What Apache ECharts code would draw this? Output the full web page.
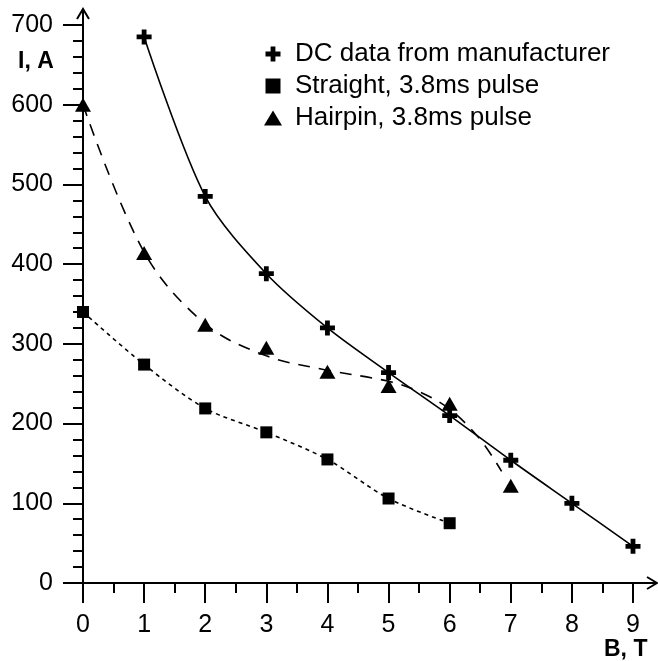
<!DOCTYPE html>
<html>
<head>
<meta charset="utf-8">
<script src="https://cdn.jsdelivr.net/npm/echarts@6/dist/echarts.min.js"></script>
<style>
  html, body { margin: 0; padding: 0; background: #fff; }
  #chart { width: 658px; height: 661px; }
</style>
</head>
<body>
<div id="chart"></div>
<script>
// Critical current vs field
const dcB = [1, 2, 3, 4, 5, 6, 7, 8, 9];
const dcI = [685, 485, 388, 320, 264, 210, 154, 100, 46];

const straightB = [0, 1, 2, 3, 4, 5, 6];
const straightI = [340, 274, 219, 189, 155, 106, 75];

const hairpinB = [0, 1, 2, 3, 4, 5, 6, 7];
const hairpinI = [600, 414, 324, 295, 265, 247, 225, 122];

// dashed fit line drawn through the hairpin points
const hairpinFitB = [0, 1, 2, 3, 4, 5, 5.5, 6, 6.5, 6.85];
const hairpinFitI = [600, 415, 325, 285, 267, 253, 240, 218, 180, 140];

const xTicks = [0, 9, 1];     // min, max, interval
const yTicks = [0, 700, 100];

const names = ['DC data from manufacturer', 'Straight, 3.8ms pulse', 'Hairpin, 3.8ms pulse'];

const plusPath = 'path://M34,0H66V34H100V66H66V100H34V66H0V34H34Z';
const squarePath = 'path://M0,0H10V10H0Z';
const triPath = 'path://M6,0L12,10H0Z';

const zip = (xs, ys) => xs.map((x, i) => [x, ys[i]]);

const chart = echarts.init(document.getElementById('chart'));
const font = 'Liberation Sans, Arial, sans-serif';
const axisLine = { show: true, lineStyle: { color: '#000', width: 2 } };

chart.setOption({
  animation: false,
  backgroundColor: '#fff',
  grid: { left: 83, right: 25, top: 25, bottom: 78 },
  legend: {
    orient: 'vertical',
    left: 259,
    top: 36,
    itemWidth: 34,
    itemHeight: 15,
    itemGap: 6,
    textStyle: { fontSize: 26, fontFamily: font, color: '#000' },
    data: [
      { name: names[0], icon: plusPath },
      { name: names[1], icon: squarePath },
      { name: names[2], icon: triPath }
    ]
  },
  xAxis: {
    type: 'value',
    min: xTicks[0], max: xTicks[1], interval: xTicks[2],
    axisLine,
    axisTick: { show: true, length: 20, lineStyle: { color: '#000', width: 2 } },
    minorTick: { show: true, splitNumber: 2, length: 10, lineStyle: { color: '#000', width: 2 } },
    splitLine: { show: false },
    axisLabel: { fontSize: 25, fontFamily: font, color: '#000', margin: 30 }
  },
  yAxis: {
    type: 'value',
    min: yTicks[0], max: yTicks[1], interval: yTicks[2],
    axisLine,
    axisTick: { show: true, length: 20, lineStyle: { color: '#000', width: 2 } },
    minorTick: { show: true, splitNumber: 5, length: 10, lineStyle: { color: '#000', width: 2 } },
    splitLine: { show: false },
    axisLabel: { fontSize: 25, fontFamily: font, color: '#000', margin: 30 }
  },
  series: [
    {
      type: 'line', data: zip(dcB, dcI), smooth: 0.3,
      showSymbol: false, lineStyle: { color: '#000', width: 1.6 }, z: 2
    },
    {
      type: 'line', data: zip(straightB, straightI), smooth: 0.3,
      showSymbol: false, lineStyle: { color: '#000', width: 1.6, type: [4, 4] }, z: 2
    },
    {
      type: 'line', data: zip(hairpinFitB, hairpinFitI), smooth: 0.35,
      showSymbol: false, lineStyle: { color: '#000', width: 1.6, type: [12, 9] }, z: 2
    },
    {
      name: names[0], type: 'scatter', data: zip(dcB, dcI),
      symbol: plusPath, symbolSize: 15, itemStyle: { color: '#000', opacity: 1 }, z: 3
    },
    {
      name: names[1], type: 'scatter', data: zip(straightB, straightI),
      symbol: 'rect', symbolSize: 12, itemStyle: { color: '#000', opacity: 1 }, z: 3
    },
    {
      name: names[2], type: 'scatter', data: zip(hairpinB, hairpinI),
      symbol: 'triangle', symbolSize: [16, 14], itemStyle: { color: '#000', opacity: 1 }, z: 3
    }
  ]
});

// axis arrows extending past the last tick, and axis titles
const o = chart.convertToPixel({ gridIndex: 0 }, [0, 0]);
const xEnd = chart.convertToPixel({ gridIndex: 0 }, [xTicks[1], 0]);
const yEnd = chart.convertToPixel({ gridIndex: 0 }, [0, yTicks[1]]);
const arrowStyle = { stroke: '#000', lineWidth: 2, fill: null };
const xTip = xEnd[0] + 24;
const yTip = yEnd[1] - 16;

chart.setOption({
  graphic: [
    { type: 'line', shape: { x1: xEnd[0], y1: o[1], x2: xTip, y2: o[1] }, style: arrowStyle },
    { type: 'polyline', shape: { points: [[xTip - 10, o[1] - 6], [xTip, o[1]], [xTip - 10, o[1] + 6]] }, style: arrowStyle },
    { type: 'line', shape: { x1: o[0], y1: yEnd[1], x2: o[0], y2: yTip }, style: arrowStyle },
    { type: 'polyline', shape: { points: [[o[0] - 6, yTip + 10], [o[0], yTip], [o[0] + 6, yTip + 10]] }, style: arrowStyle },
    {
      type: 'text', left: 18, top: 50,
      style: { text: 'I, A', font: 'bold 23px ' + font, fill: '#000' }
    },
    {
      type: 'text', left: 604, top: 638,
      style: { text: 'B, T', font: 'bold 23px ' + font, fill: '#000' }
    }
  ]
});
</script>
</body>
</html>
